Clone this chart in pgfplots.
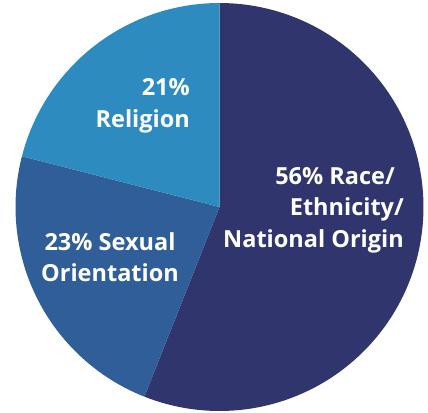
\documentclass[border=0pt]{standalone}
\usepackage{pgfplots}
\pgfplotsset{compat=1.18}
\usepackage{fontspec}
\setmainfont{Open Sans}
\definecolor{cRace}{HTML}{31356E}
\definecolor{cSex}{HTML}{2F5E98}
\definecolor{cRel}{HTML}{2E8BBF}
\begin{document}
\begin{tikzpicture}
% shares in percent
\def\vRace{56}
\def\vSex{23}
\def\vRel{21}
\pgfmathsetmacro{\aA}{90}
\pgfmathsetmacro{\aB}{90-3.6*\vRace}
\pgfmathsetmacro{\aC}{\aB-3.6*\vSex}
\pgfmathsetmacro{\aD}{\aC-3.6*\vRel}
\def\cx{219.5}\def\cy{205}\def\r{204}
\begin{axis}[
  width=428pt, height=412pt, scale only axis,
  xmin=0, xmax=428, ymin=0, ymax=412,
  hide axis, clip=false,
]
\path (rel axis cs:0,0) rectangle (rel axis cs:1,1);
\addplot[fill=cRace, draw=none, domain=\aA:\aB, samples=120]
  ({\cx+\r*cos(x)},{\cy+\r*sin(x)}) -- (axis cs:\cx,\cy) -- cycle;
\addplot[fill=cSex, draw=none, domain=\aB:\aC, samples=60]
  ({\cx+\r*cos(x)},{\cy+\r*sin(x)}) -- (axis cs:\cx,\cy) -- cycle;
\addplot[fill=cRel, draw=none, domain=\aC:\aD, samples=60]
  ({\cx+\r*cos(x)},{\cy+\r*sin(x)}) -- (axis cs:\cx,\cy) -- cycle;
\node[text=white, font=\fontsize{23.5}{31.5}\selectfont\bfseries, align=right, anchor=east, inner sep=0pt]
  at (axis cs:404,202) {56\% Race/\hspace*{9pt}\\Ethnicity/\hspace*{9pt}\\National Origin};
\node[text=white, font=\fontsize{23.5}{31.5}\selectfont\bfseries, align=center, inner sep=0pt]
  at (axis cs:110,155) {23\% Sexual\\Orientation};
\node[text=white, font=\fontsize{23.5}{31.5}\selectfont\bfseries, align=right, anchor=east, inner sep=0pt]
  at (axis cs:190,306) {21\%\\Religion};
\end{axis}
\end{tikzpicture}
\end{document}
